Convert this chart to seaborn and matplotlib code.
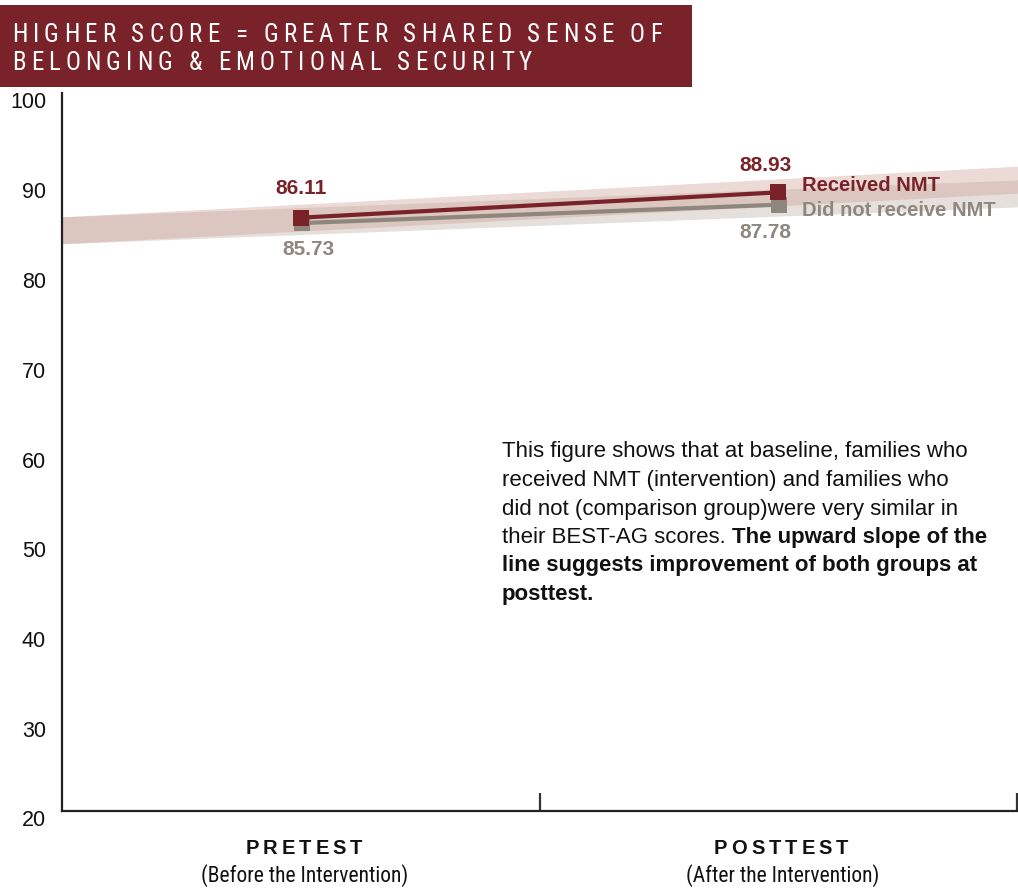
import numpy as np
import pandas as pd
import matplotlib
matplotlib.use("Agg")
import matplotlib.pyplot as plt
from matplotlib import font_manager
from matplotlib.patches import Rectangle
import seaborn as sns

# ---- data ----
phases = ["PRETEST", "POSTTEST"]
phase_notes = ["(Before the Intervention)", "(After the Intervention)"]
groups = ["Received NMT", "Did not receive NMT"]
received = [86.11, 88.93]
not_received = [85.73, 87.78]
y_ticks = [20, 30, 40, 50, 60, 70, 80, 90, 100]
title_lines = ["HIGHER SCORE = GREATER SHARED SENSE OF",
               "BELONGING & EMOTIONAL SECURITY"]
note_regular = ["This figure shows that at baseline, families who",
                "received NMT (intervention) and families who",
                "did not (comparison group)were very similar in",
                "their BEST-AG scores. "]
note_bold = ["The upward slope of the",
             "line suggests improvement of both groups at",
             "posttest."]

RED = "#7a2229"
GRAY = "#8f867e"
BAND_GRAY = "#e6e0dc"
BAND_RED = "#c8968c"

sns.set_theme(style="white")
available = {f.name for f in font_manager.fontManager.ttflist}
NARROW = next((f for f in ["Liberation Sans Narrow", "Roboto Condensed", "Roboto"]
               if f in available), "DejaVu Sans")
BODY = "Liberation Sans" if "Liberation Sans" in available else "DejaVu Sans"
plt.rcParams["font.family"] = [BODY, "DejaVu Sans"]

DPI = 100
W, H = 1018, 891
fig = plt.figure(figsize=(W / DPI, H / DPI), dpi=DPI)
ax = fig.add_axes([62 / W, (H - 811) / H, (W - 62) / W, (811 - 93) / H])

df = pd.DataFrame({
    "x": [0, 1, 0, 1],
    "score": received + not_received,
    "group": [groups[0]] * 2 + [groups[1]] * 2,
})

# trend bands running across the full width of the plot
xs = np.array([-0.5, 1.52])
half = 1.5
for vals, col, alpha in [(not_received, BAND_GRAY, 1.0), (received, BAND_RED, 0.35)]:
    slope, icpt = np.polyfit([0, 1], vals, 1)
    line = slope * xs + icpt
    ax.fill_between(xs, line - half, line + half, color=col, alpha=alpha,
                    linewidth=0, zorder=1)

sns.lineplot(data=df[df.group == groups[1]], x="x", y="score", color=GRAY,
             lw=3, marker="s", markersize=11, markeredgewidth=0, ax=ax,
             legend=False, zorder=3)
sns.lineplot(data=df[df.group == groups[0]], x="x", y="score", color=RED,
             lw=3, marker="s", markersize=11, markeredgewidth=0, ax=ax,
             legend=False, zorder=4)
# nudge the comparison series so both squares show
for ln in ax.lines[:1]:
    ln.set_transform(ln.get_transform() + matplotlib.transforms.ScaledTranslation(
        1 / DPI, -2 / DPI, fig.dpi_scale_trans))

ax.set_xlim(-0.5, 1.502)
ax.set_ylim(20, 100)
ax.set_xlabel("")
ax.set_ylabel("")
for s in ["top", "right"]:
    ax.spines[s].set_visible(False)
for s in ["left", "bottom"]:
    ax.spines[s].set_color("#222222")
    ax.spines[s].set_linewidth(1.6)
ax.set_xticks([0.5, 1.5])
ax.set_xticklabels([])
ax.tick_params(axis="x", direction="in", length=13, width=1.6, color="#333333", bottom=True)
ax.set_yticks(y_ticks)
ax.set_yticklabels([])
ax.tick_params(axis="y", length=0)
for v in y_ticks:
    ax.annotate(str(v), xy=(0, v), xycoords=("axes fraction", "data"),
                xytext=(-16, -10), textcoords="offset pixels",
                ha="right", va="center", fontsize=15.5, color="#111111")

# value labels
lab_font = dict(fontsize=15, fontweight="bold", ha="center", va="center", family=BODY)
ax.annotate(f"{received[0]:.2f}", xy=(0, received[0]), xytext=(0, 29),
            textcoords="offset pixels", color=RED, **lab_font)
ax.annotate(f"{not_received[0]:.2f}", xy=(0, not_received[0]), xytext=(8, -28),
            textcoords="offset pixels", color=GRAY, **lab_font)
ax.annotate(f"{received[1]:.2f}", xy=(1, received[1]), xytext=(-13, 27),
            textcoords="offset pixels", color=RED, **lab_font)
ax.annotate(f"{not_received[1]:.2f}", xy=(1, not_received[1]), xytext=(-13, -30),
            textcoords="offset pixels", color=GRAY, **lab_font)

# series names at the line ends
ax.annotate(groups[0], xy=(1, received[1]), xytext=(24, 7), textcoords="offset pixels",
            ha="left", va="center", fontsize=14.5, fontweight="bold", color=RED)
ax.annotate(groups[1], xy=(1, not_received[1]), xytext=(24, -8), textcoords="offset pixels",
            ha="left", va="center", fontsize=14.5, fontweight="bold", color=GRAY)

renderer = fig.canvas.get_renderer()


def char_widths(text, **kw):
    prop = font_manager.FontProperties(family=kw.get("family"), size=kw.get("fontsize"),
                                       weight=kw.get("fontweight", "normal"))
    return [renderer.get_text_width_height_descent(c, prop, ismath=False)[0]
            for c in text]


def spaced(x_px, y_px, text, spacing, ha="left", **kw):
    """Draw text letter by letter with extra tracking (pixel coordinates)."""
    widths = char_widths(text, **kw)
    total = sum(widths) + spacing * (len(text) - 1)
    x = x_px if ha == "left" else x_px - total / 2
    for c, w in zip(text, widths):
        fig.text(x / W, 1 - y_px / H, c, ha="left", va="center", **kw)
        x += w + spacing


# title banner
fig.patches.append(Rectangle((0, 1 - 87 / H), 692 / W, 82 / H, transform=fig.transFigure,
                             facecolor=RED, edgecolor="none", zorder=0))
title_kw = dict(family=NARROW, fontsize=18, color="white")
w0 = char_widths(title_lines[0], **title_kw)
track = (650 - sum(w0)) / (len(title_lines[0]) - 1)
spaced(12, 35, title_lines[0], track, **title_kw)
spaced(12, 63, title_lines[1], track, **title_kw)

# category labels
for i, (p, n) in enumerate(zip(phases, phase_notes)):
    xpx = 62 + (i + 0.5) * (W - 62) / 2.002
    spaced(xpx + 3, 849, p, 4.0, ha="center", family=BODY, fontsize=14.5,
           fontweight="bold", color="#111111")
    fig.text((xpx + 4) / W, 1 - 876 / H, n, ha="center", va="center", family=NARROW,
             fontsize=15.5, color="#111111")

# explanatory note
y0 = 452
step = 28.5
for i, line in enumerate(note_regular):
    t = fig.text(502 / W, 1 - (y0 + i * step) / H, line, ha="left", va="center",
                 fontsize=16, color="#111111")
ax.annotate(note_bold[0], xy=(1, 0.5), xycoords=t, ha="left", va="center",
            fontsize=16, fontweight="bold", color="#111111")
for j, line in enumerate(note_bold[1:], start=4):
    fig.text(502 / W, 1 - (y0 + j * step) / H, line, ha="left", va="center",
             fontsize=16, fontweight="bold", color="#111111")

fig.savefig("out.png", dpi=DPI, facecolor="white")
